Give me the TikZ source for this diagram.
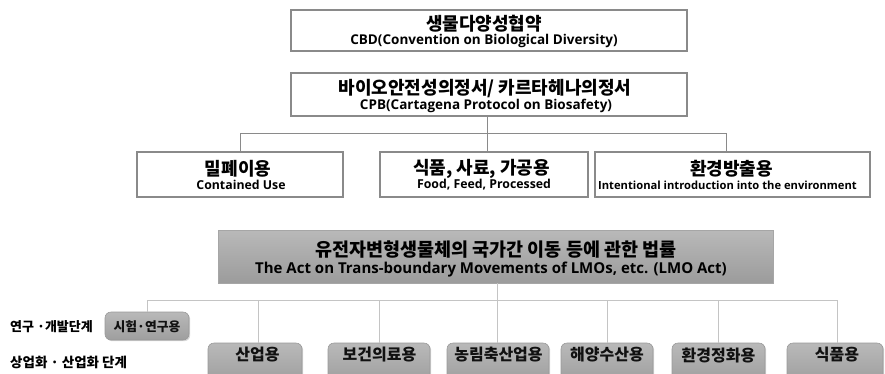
\documentclass[tikz,border=0pt]{standalone}
\usepackage{fontspec}
\setmainfont{Open Sans}
\newfontfamily\kr{Noto Sans CJK KR}
\usetikzlibrary{shadows}
\definecolor{boxline}{HTML}{8A8A8A}
\definecolor{lline}{HTML}{C4C4C4}
\definecolor{txt}{HTML}{111111}
\tikzset{
  ubox/.style={draw=boxline, line width=1.3pt, fill=white, inner sep=0pt, outer sep=0pt},
  gbox/.style={draw=gray!70, line width=0.8pt, top color=gray!55, bottom color=gray!78, inner sep=0pt, outer sep=0pt,
    drop shadow={shadow xshift=1.2pt, shadow yshift=-1.2pt, opacity=0.25}},
  rbox/.style={draw=gray!80, line width=0.6pt, rounded corners=6pt, top color=gray!55, bottom color=gray!76, inner sep=0pt, outer sep=0pt,
    drop shadow={shadow xshift=1.2pt, shadow yshift=-1.2pt, opacity=0.3}},
  ktext/.style={inner sep=0pt, font=\kr\bfseries, text=black},
  etext/.style={inner sep=0pt, font=\bfseries, text=black},
  uconn/.style={draw=boxline, line width=1pt},
  lconn/.style={draw=lline, line width=0.9pt},
}
\begin{document}
\begin{tikzpicture}[x=1pt, y=-1pt]
\useasboundingbox (0,0) rectangle (885,373);
\clip (0,0) rectangle (885,373);
% junctions
\coordinate (j1) at (487,133);
\coordinate (j2) at (497,300);
% upper boxes
\node[ubox, minimum width=396pt, minimum height=41pt] (cbd) at (489,30.5) {};
\node[ubox, minimum width=396pt, minimum height=43pt] (cpb) at (489,94.5) {};
\node[ubox, minimum width=206pt, minimum height=45pt] (contained) at (240,174.5) {};
\node[ubox, minimum width=208pt, minimum height=45pt] (food) at (484,174.5) {};
\node[ubox, minimum width=275pt, minimum height=45pt] (env) at (732.5,174.5) {};
% upper connectors
\draw[uconn] (cpb.south -| j1) -- (food.north -| j1);
\draw[uconn] (contained.north) |- (j1);
\draw[uconn] ([xshift=-6.5pt]env.north) |- (j1);
% LMO act
\node[gbox, minimum width=555pt, minimum height=53pt] (lmo) at (495.5,256.5) {};
% lower boxes
\node[rbox, minimum width=84pt, minimum height=28pt] (research) at (147,326) {};
\node[rbox, minimum width=94pt, minimum height=40pt] (industry) at (255,363) {};
\node[rbox, minimum width=102pt, minimum height=40pt] (health) at (379,363) {};
\node[rbox, minimum width=102pt, minimum height=40pt] (agri) at (498,363) {};
\node[rbox, minimum width=92pt, minimum height=40pt] (marine) at (607,363) {};
\node[rbox, minimum width=93pt, minimum height=40pt] (remed) at (718.5,363) {};
\node[rbox, minimum width=96pt, minimum height=40pt] (foodu) at (835,363) {};
% lower connectors
\draw[lconn] (lmo.south -| j2) -- (agri.north -| j2);
\draw[lconn] (research.north) |- (j2);
\draw[lconn] ([xshift=3pt]industry.north) |- (j2);
\draw[lconn] (health.north) |- (j2);
\draw[lconn] (marine.north) |- (j2);
\draw[lconn] (remed.north) |- (j2);
\draw[lconn] ([xshift=2pt]foodu.north) |- (j2);
% texts
\node[ktext, font=\kr\bfseries\fontsize{18}{20}\selectfont] (t1k) at (484,23.5) {생물다양성협약};
\node[etext, font=\bfseries\fontsize{13.5}{15}\selectfont] (t1e) at (484,41) {CBD(Convention on Biological Diversity)};
\node[ktext, font=\kr\bfseries\fontsize{18}{20}\selectfont] (t2k) at (485,88.5) {바이오안전성의정서/ 카르타헤나의정서};
\node[etext, font=\bfseries\fontsize{13.5}{15}\selectfont] (t2e) at (486,106) {CPB(Cartagena Protocol on Biosafety)};
\node[ktext, font=\kr\bfseries\fontsize{18}{20}\selectfont] (t3k) at (238,168.5) {밀폐이용};
\node[etext, font=\bfseries\fontsize{12.3}{14}\selectfont] (t3e) at (241,185) {Contained Use};
\node[ktext, font=\kr\bfseries\fontsize{18}{20}\selectfont] (t4k) at (481.5,168.5) {식품, 사료, 가공용};
\node[etext, font=\bfseries\fontsize{12.3}{14}\selectfont] (t4e) at (484,185) {Food, Feed, Processed};
\node[ktext, font=\kr\bfseries\fontsize{18}{20}\selectfont] (t5k) at (731.5,168.5) {환경방출용};
\node[etext, font=\bfseries\fontsize{11.2}{13}\selectfont] (t5e) at (727.5,185) {Intentional introduction into the environment};
\node[ktext, font=\kr\bfseries\fontsize{18.5}{20}\selectfont] (t6k) at (496,250) {유전자변형생물체의 국가간 이동 등에 관한 법률};
\node[etext, font=\bfseries\fontsize{15}{17}\selectfont] (t6e) at (491,270) {The Act on Trans-boundary Movements of LMOs, etc. (LMO Act)};
\node[ktext, font=\kr\bfseries\fontsize{12.8}{15}\selectfont, text=txt] (r1) at (147,326.5) {시험·연구용};
\node[ktext, font=\kr\bfseries\fontsize{16}{18}\selectfont, text=txt] (r2) at (257.5,355) {산업용};
\node[ktext, font=\kr\bfseries\fontsize{16}{18}\selectfont, text=txt] (r3) at (379.5,355) {보건의료용};
\node[ktext, font=\kr\bfseries\fontsize{16}{18}\selectfont, text=txt] (r4) at (498.5,355) {농림축산업용};
\node[ktext, font=\kr\bfseries\fontsize{16}{18}\selectfont, text=txt] (r5) at (607,355) {해양수산용};
\node[ktext, font=\kr\bfseries\fontsize{16}{18}\selectfont, text=txt] (r6) at (718.5,355) {환경정화용};
\node[ktext, font=\kr\bfseries\fontsize{16}{18}\selectfont, text=txt] (r7) at (837,355) {식품용};
% stage labels
\node[ktext, font=\kr\bfseries\fontsize{13}{15}\selectfont, anchor=west] (s1) at (10,327) {연구 ·개발단계};
\node[ktext, font=\kr\bfseries\fontsize{13.5}{16}\selectfont, anchor=west] (s2) at (10,362) {상업화 · 산업화 단계};
\end{tikzpicture}
\end{document}
